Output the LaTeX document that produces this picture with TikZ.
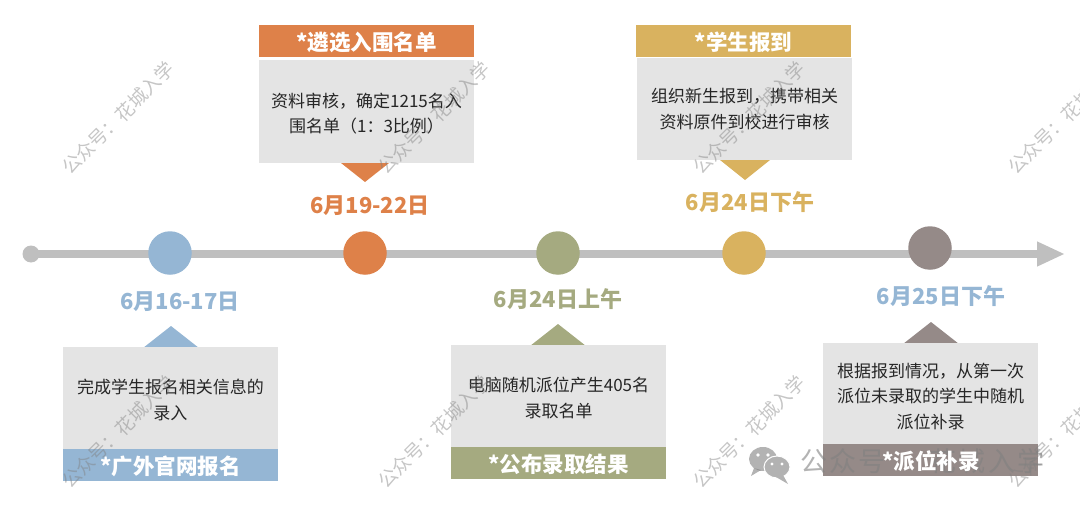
\documentclass[tikz,border=0pt]{standalone}
\usepackage{fontspec}
\setmainfont{Noto Sans CJK SC}
\usetikzlibrary{arrows.meta}
\definecolor{lineGray}{HTML}{BFBFBF}
\definecolor{boxGray}{HTML}{E4E4E4}
\definecolor{stepBlue}{HTML}{95B6D4}
\definecolor{stepOrange}{HTML}{DE8149}
\definecolor{stepGreen}{HTML}{A5AA80}
\definecolor{stepYellow}{HTML}{D9B25F}
\definecolor{stepMauve}{HTML}{958A88}
\newcommand{\lift}{\rule{0pt}{18.5pt}}
\begin{document}
\begin{tikzpicture}[x=1pt, y=-1pt]
      \tikzset{dot/.style={circle, inner sep=0pt, minimum size=43.5pt},
               title/.style={inner sep=0pt, minimum width=215pt, minimum height=32pt, text=white, font=\fontsize{21.5}{26}\selectfont\bfseries, execute at begin node={\rule{0pt}{22pt}}},
               detail/.style={fill=boxGray, inner sep=0pt, minimum width=215pt, minimum height=102pt, align=center, text=black!85, font=\fontsize{17}{25.5}\selectfont},
               date/.style={inner sep=0pt, font=\fontsize{22}{26}\selectfont\bfseries},
               wmark/.style={rotate=45, inner sep=0pt, text=gray, opacity=.45, font=\fontsize{18.7}{23}\selectfont},
               bigmark/.style={inner sep=0pt, text=gray, opacity=.6, font=\fontsize{27}{32}\selectfont\addfontfeature{LetterSpace=8}}}
      \clip (0,0) rectangle (1080,506);
%% Axis
      \node[circle, fill=lineGray, inner sep=0pt, minimum size=17pt] (start) at (31,254) {};
      \coordinate (end) at (1065,254);
      \draw[line width=8pt, lineGray, -{Triangle[length=28pt, width=23pt]}] (start.center) -- (end);
%% Circles
      \node[dot, fill=stepBlue] (dot1) at (170,253) {};
      \node[dot, fill=stepOrange] (dot2) at (365,253) {};
      \node[dot, fill=stepGreen] (dot3) at (558,253) {};
      \node[dot, fill=stepYellow] (dot4) at (744,253) {};
      \node[dot, fill=stepMauve] (dot5) at (930,248) {};
%% Dates
      \node[date, text=stepBlue] (date1) at (180,301.5) {6月16-17日};
      \node[date, text=stepOrange] (date2) at (370,205.5) {6月19-22日};
      \node[date, text=stepGreen] (date3) at (558,299.5) {6月24日上午};
      \node[date, text=stepYellow] (date4) at (750,202.5) {6月24日下午};
      \node[date, text=stepBlue] (date5) at (941,296.5) {6月25日下午};
%% Pointers
      \fill[stepBlue] (143,348) -- (171,326) -- (199,348) -- cycle;
      \fill[stepOrange] (341,163) -- (365,182) -- (389,163) -- cycle;
      \fill[stepGreen] (530,346) -- (558,324) -- (586,346) -- cycle;
      \fill[stepYellow] (720,160) -- (745,180) -- (770,160) -- cycle;
      \fill[stepMauve] (903,344) -- (931,322) -- (959,344) -- cycle;
%% Boxes
      \node[detail] (box1) at (170.5,398) {\lift 完成学生报名相关信息的\\录入};
      \node[title, fill=stepBlue] (head1) at (170.5,465) {*广外官网报名};
      \node[detail, minimum height=103pt] (box2) at (366.5,111.5) {\lift 资料审核，确定1215名入\\围名单（1：3比例）};
      \node[title, fill=stepOrange] (head2) at (366.5,41) {*遴选入围名单};
      \node[detail] (box3) at (558.5,396) {\lift 电脑随机派位产生405名\\录取名单};
      \node[title, fill=stepGreen] (head3) at (558.5,462.5) {*公布录取结果};
      \node[detail] (box4) at (744.5,109) {组织新生报到，携带相关\\资料原件到校进行审核};
      \node[title, fill=stepYellow] (head4) at (743.5,41) {*学生报到};
      \node[detail] (box5) at (930.5,394) {\lift 根据报到情况，从第一次\\派位未录取的学生中随机\\派位补录};
      \node[fill=stepMauve, inner sep=0pt, minimum width=215pt, minimum height=32pt] (head5) at (930.5,460) {};
%% Big mark
      \fill[gray, opacity=.6] (763,459) ellipse (14pt and 12pt);
      \fill[gray, opacity=.6] (754,468) -- (751,476) -- (761,470) -- cycle;
      \fill[gray!60, draw=white, line width=1pt] (777,467) ellipse (13pt and 11pt);
      \fill[gray!60] (783,475) -- (788,484) -- (776,477) -- cycle;
      \fill[white] (758,455) circle (1.8pt) (768,455) circle (1.8pt) (772,464) circle (1.6pt) (782,464) circle (1.6pt);
      \node[bigmark] (bigA) at (843,461) {公众号};
      \node[bigmark] (bigB) at (987,461) {花城入学};
      \node[inner sep=0pt, text=white, font=\fontsize{21.5}{26}\selectfont\bfseries] (label5) at (931,461) {*派位补录};
%% Watermarks
      \node[wmark] (wm1) at (118,118) {公众号：花城入学};
      \node[wmark] (wm2) at (434,118) {公众号：花城入学};
      \node[wmark] (wm3) at (749,118) {公众号：花城入学};
      \node[wmark] (wm4) at (1064,118) {公众号：花城入学};
      \node[wmark] (wm5) at (118,432) {公众号：花城入学};
      \node[wmark] (wm6) at (434,432) {公众号：花城入学};
      \node[wmark] (wm7) at (749,432) {公众号：花城入学};
      \node[wmark] (wm8) at (1064,432) {公众号：花城入学};
\end{tikzpicture}
\end{document}
